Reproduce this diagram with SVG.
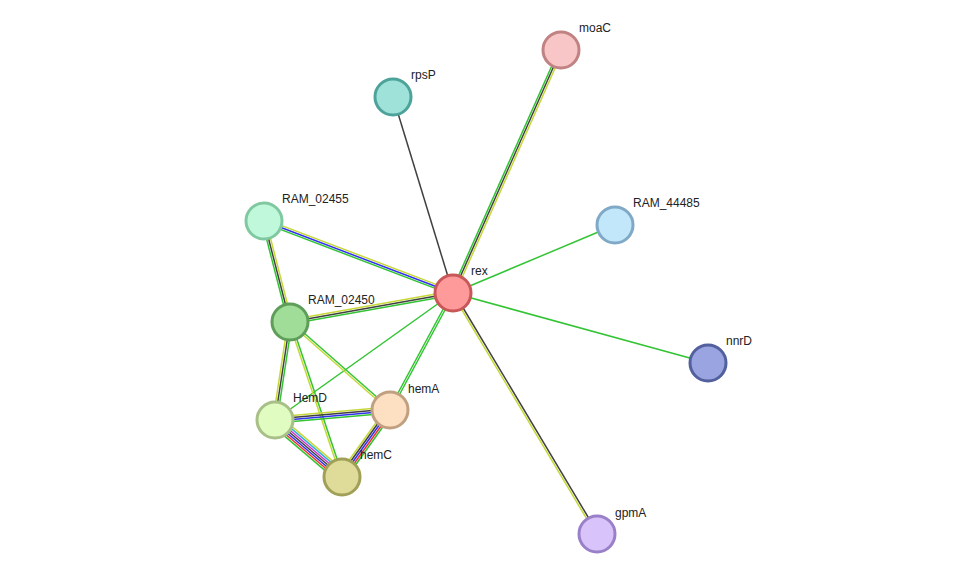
<svg xmlns="http://www.w3.org/2000/svg" width="976" height="580" viewBox="0 0 976 580">
<style>
line{stroke-width:1.5}
.g{stroke:#33c433}.k{stroke:#404040}.y{stroke:#c6d838}.b{stroke:#3030f0}.r{stroke:#f03030}.m{stroke:#d030d0}.c{stroke:#30b0d8}
circle{stroke-width:3}
text{font-family:"Liberation Sans",Arial,sans-serif;font-size:12px;fill:#222}
</style>
<rect width="976" height="580" fill="#fff"/>
<g id="connectors">
<line class="g" x1="451.2" y1="292.2" x2="559.2" y2="49.2"/><line class="k" x1="453" y1="293" x2="561" y2="50"/><line class="y" x1="454.8" y1="293.8" x2="562.8" y2="50.8"/>
<line class="k" x1="453" y1="293" x2="393" y2="97"/>
<line class="g" x1="453" y1="293" x2="615" y2="225"/>
<line class="g" x1="453" y1="293" x2="708" y2="363"/>
<line class="k" x1="453.9" y1="292.5" x2="597.9" y2="533.5"/><line class="y" x1="452.1" y1="293.5" x2="596.1" y2="534.5"/>
<line class="g" x1="452.3" y1="294.9" x2="263.3" y2="222.9"/><line class="b" x1="453" y1="293" x2="264" y2="221"/><line class="y" x1="453.7" y1="291.1" x2="264.7" y2="219.1"/>
<line class="g" x1="453.4" y1="295" x2="290.4" y2="324"/><line class="k" x1="453" y1="293" x2="290" y2="322"/><line class="y" x1="452.6" y1="291" x2="289.6" y2="320"/>
<line class="g" x1="453" y1="293" x2="275" y2="420"/>
<line class="g" x1="452.1" y1="292.5" x2="389.1" y2="409.5"/><line class="g" x1="453.9" y1="293.5" x2="390.9" y2="410.5"/>
<line class="g" x1="262.1" y1="221.5" x2="288.1" y2="322.5"/><line class="k" x1="264" y1="221" x2="290" y2="322"/><line class="y" x1="265.9" y1="220.5" x2="291.9" y2="321.5"/>
<line class="y" x1="288" y1="321.7" x2="273" y2="419.7"/><line class="k" x1="290" y1="322" x2="275" y2="420"/><line class="g" x1="292" y1="322.3" x2="277" y2="420.3"/>
<line class="y" x1="289.3" y1="322.8" x2="389.3" y2="410.8"/><line class="g" x1="290.7" y1="321.2" x2="390.7" y2="409.2"/>
<line class="y" x1="289" y1="322.3" x2="341" y2="477.3"/><line class="g" x1="291" y1="321.7" x2="343" y2="476.7"/>
<line class="y" x1="274.7" y1="417" x2="389.7" y2="407"/><line class="k" x1="274.9" y1="419" x2="389.9" y2="409"/><line class="b" x1="275.1" y1="421" x2="390.1" y2="411"/><line class="g" x1="275.3" y1="423" x2="390.3" y2="413"/>
<line class="g" x1="271.1" y1="424.6" x2="338.1" y2="481.6"/><line class="r" x1="272.4" y1="423" x2="339.4" y2="480"/><line class="b" x1="273.7" y1="421.5" x2="340.7" y2="478.5"/><line class="k" x1="275" y1="420" x2="342" y2="477"/><line class="m" x1="276.3" y1="418.5" x2="343.3" y2="475.5"/><line class="c" x1="277.6" y1="416.9" x2="344.6" y2="473.9"/><line class="y" x1="278.9" y1="415.4" x2="345.9" y2="472.4"/>
<line class="y" x1="386.7" y1="407.7" x2="338.7" y2="474.7"/><line class="k" x1="388.4" y1="408.8" x2="340.4" y2="475.8"/><line class="b" x1="390" y1="410" x2="342" y2="477"/><line class="r" x1="391.6" y1="411.2" x2="343.6" y2="478.2"/><line class="g" x1="393.3" y1="412.3" x2="345.3" y2="479.3"/>
</g>
<g id="moaC"><circle cx="561" cy="50" r="18" fill="#f8c6c6" stroke="#c08282"/><text x="579" y="32">moaC</text></g>
<g id="rpsP"><circle cx="393" cy="97" r="18" fill="#9ee2da" stroke="#4da39a"/><text x="411" y="79">rpsP</text></g>
<g id="RAM_44485"><circle cx="615" cy="225" r="18" fill="#c2e7fb" stroke="#7fa9c6"/><text x="633" y="207">RAM_44485</text></g>
<g id="nnrD"><circle cx="708" cy="363" r="18" fill="#99a4e0" stroke="#52609e"/><text x="726" y="345">nnrD</text></g>
<g id="gpmA"><circle cx="597" cy="534" r="18" fill="#d8c4fa" stroke="#9a80c8"/><text x="615" y="517">gpmA</text></g>
<g id="RAM_02455"><circle cx="264" cy="221" r="18" fill="#c0f8dc" stroke="#80c8a0"/><text x="282" y="203">RAM_02455</text></g>
<g id="RAM_02450"><circle cx="290" cy="322" r="18" fill="#a0dd98" stroke="#5e9e58"/><text x="308" y="304">RAM_02450</text></g>
<g id="HemD"><circle cx="275" cy="420" r="18" fill="#e0fcc0" stroke="#a8c088"/><text x="293" y="402">HemD</text></g>
<g id="hemA"><circle cx="390" cy="410" r="18" fill="#fde0c2" stroke="#c0a080"/><text x="408" y="393">hemA</text></g>
<g id="hemC"><circle cx="342" cy="477" r="18" fill="#dedc98" stroke="#a0a058"/><text x="360" y="459">hemC</text></g>
<g id="rex"><circle cx="453" cy="293" r="18" fill="#ff9a9a" stroke="#c85858"/><text x="471" y="275">rex</text></g>
</svg>
